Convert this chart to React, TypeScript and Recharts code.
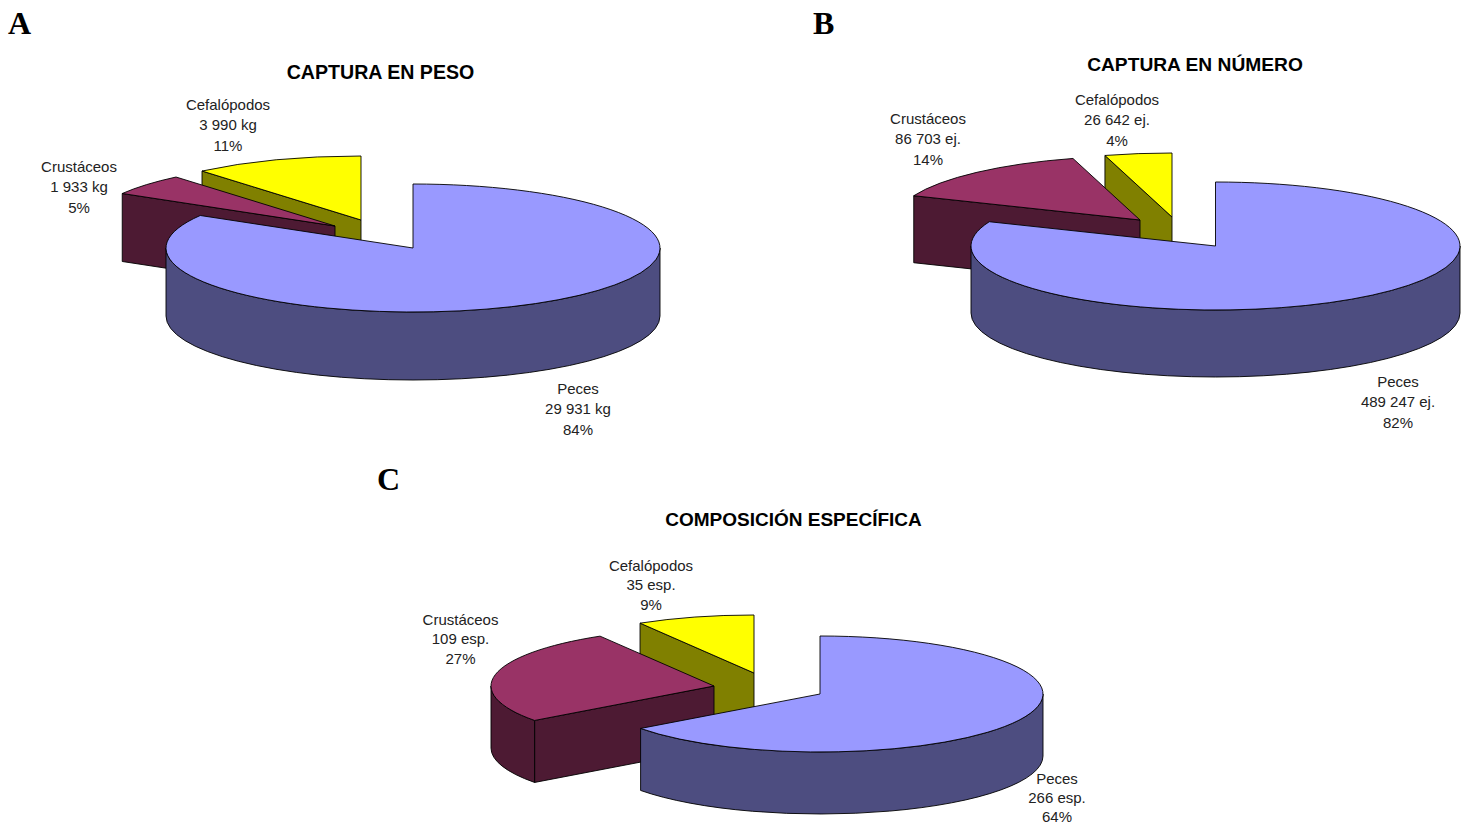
import { Pie, PieChart } from 'recharts';

const categories = ['Cefalópodos', 'Crustáceos', 'Peces'];

const pesoValues = [3990, 1933, 29931];
const pesoValueLabels = ['3 990 kg', '1 933 kg', '29 931 kg'];
const pesoPercents = ['11%', '5%', '84%'];

const numeroValues = [26642, 86703, 489247];
const numeroValueLabels = ['26 642 ej.', '86 703 ej.', '489 247 ej.'];
const numeroPercents = ['4%', '14%', '82%'];

const especieValues = [35, 109, 266];
const especieValueLabels = ['35 esp.', '109 esp.', '266 esp.'];
const especiePercents = ['9%', '27%', '64%'];

const topColors = ['#ffff00', '#993366', '#9999ff'];
const sideColors = ['#808000', '#4d1a33', '#4d4d80'];

const buildRows = (values: number[], valueLabels: string[], percents: string[]) =>
    categories.map((name, i) => ({ name, value: values[i], valueLabel: valueLabels[i], percent: percents[i] }));

const panels = [
    {
        letter: 'A',
        letterAt: [8, 34],
        title: 'CAPTURA EN PESO',
        titleAt: [380.5, 78.5],
        titleSize: 19.6,
        rows: buildRows(pesoValues, pesoValueLabels, pesoPercents),
        cx: 413,
        cy: 248,
        rx: 247,
        ry: 64,
        depth: 68,
        offsets: [[-52, -28], [-78, -22], [0, 0]],
        labelAt: [[228, 110], [79, 172], [578, 394]],
        lineGap: 20.4,
    },
    {
        letter: 'B',
        letterAt: [813, 34],
        title: 'CAPTURA EN NÚMERO',
        titleAt: [1195, 70.5],
        titleSize: 19.2,
        rows: buildRows(numeroValues, numeroValueLabels, numeroPercents),
        cx: 1215.5,
        cy: 246,
        rx: 244.5,
        ry: 64,
        depth: 67,
        offsets: [[-43.5, -29], [-75.5, -26], [0, 0]],
        labelAt: [[1117, 105], [928, 124], [1398, 387]],
        lineGap: 20.4,
    },
    {
        letter: 'C',
        letterAt: [377, 490],
        title: 'COMPOSICIÓN ESPECÍFICA',
        titleAt: [793.5, 525.5],
        titleSize: 19,
        rows: buildRows(especieValues, especieValueLabels, especiePercents),
        cx: 820,
        cy: 694,
        rx: 223,
        ry: 58,
        depth: 62,
        offsets: [[-66, -21], [-106, -8], [0, 0]],
        labelAt: [[651, 571], [460.5, 625], [1057, 783.5]],
        lineGap: 19.3,
    },
];

type Panel = (typeof panels)[number];

const OUTLINE = { stroke: '#000', strokeWidth: 0.9, strokeLinejoin: 'round' as const };

// Pie slice drawn as a tilted cylinder wedge: radial walls, rim, then the lid.
function wedge(panel: Panel) {
    return (props: any) => {
        const index = categories.indexOf(props.name);
        const [dx, dy] = panel.offsets[index];
        const x0 = props.cx + dx;
        const y0 = props.cy + dy;
        const rx = props.outerRadius;
        const { ry, depth } = panel;

        // slices run counter-clockwise in recharts degrees; convert to clockwise from the top
        let from = 90 - props.endAngle;
        let to = 90 - props.startAngle;
        if (from < 0) {
            from += 360;
            to += 360;
        }

        const at = (deg: number, drop = 0) => {
            const rad = (deg * Math.PI) / 180;
            return `${x0 + rx * Math.sin(rad)} ${y0 - ry * Math.cos(rad) + drop}`;
        };
        const arc = (a: number, b: number, drop: number) => {
            const sweep = b > a ? 1 : 0;
            return `A ${rx} ${ry} 0 ${Math.abs(b - a) > 180 ? 1 : 0} ${sweep} ${at(b, drop)}`;
        };
        const radialWall = (deg: number) =>
            `M ${x0} ${y0} L ${at(deg)} L ${at(deg, depth)} L ${x0} ${y0 + depth} Z`;

        const rimFrom = Math.max(from, 90);
        const rimTo = Math.min(to, 270);

        return (
            <g>
                {from > 180 && from < 360 && <path d={radialWall(from)} fill={sideColors[index]} {...OUTLINE} />}
                {to > 0 && to < 180 && <path d={radialWall(to)} fill={sideColors[index]} {...OUTLINE} />}
                {rimTo > rimFrom && (
                    <path
                        d={`M ${at(rimFrom)} ${arc(rimFrom, rimTo, 0)} L ${at(rimTo, depth)} ${arc(rimTo, rimFrom, depth)} Z`}
                        fill={sideColors[index]}
                        {...OUTLINE}
                    />
                )}
                <path d={`M ${x0} ${y0} L ${at(from)} ${arc(from, to, 0)} Z`} fill={topColors[index]} {...OUTLINE} />
            </g>
        );
    };
}

function sliceLabel(panel: Panel) {
    return (props: any) => {
        const index = categories.indexOf(props.name);
        const row = panel.rows[index];
        const [x, y] = panel.labelAt[index];
        return (
            <text
                x={x}
                y={y}
                textAnchor="middle"
                fontFamily="'Liberation Sans', Arial, sans-serif"
                fontSize={15}
                fill="#222"
            >
                <tspan x={x}>{row.name}</tspan>
                <tspan x={x} dy={panel.lineGap}>{row.valueLabel}</tspan>
                <tspan x={x} dy={panel.lineGap}>{row.percent}</tspan>
            </text>
        );
    };
}

export default function App() {
    return (
        <div style={{ position: 'absolute', left: 0, top: 0, width: 1470, height: 823, background: '#fff' }}>
            <PieChart width={1470} height={823} margin={{ top: 0, right: 0, bottom: 0, left: 0 }}>
                {panels.map((panel) => (
                    <Pie
                        key={panel.letter}
                        data={panel.rows}
                        dataKey="value"
                        nameKey="name"
                        cx={panel.cx}
                        cy={panel.cy}
                        innerRadius={0}
                        outerRadius={panel.rx}
                        startAngle={90}
                        endAngle={450}
                        stroke="none"
                        shape={wedge(panel)}
                        label={sliceLabel(panel)}
                        labelLine={false}
                        isAnimationActive={false}
                    />
                ))}
                {panels.map((panel) => (
                    <g key={panel.letter}>
                        <text
                            x={panel.letterAt[0]}
                            y={panel.letterAt[1]}
                            fontFamily="'Liberation Serif', 'Times New Roman', serif"
                            fontWeight="bold"
                            fontSize={32}
                            fill="#000"
                        >
                            {panel.letter}
                        </text>
                        <text
                            x={panel.titleAt[0]}
                            y={panel.titleAt[1]}
                            textAnchor="middle"
                            fontFamily="'Liberation Sans', Arial, sans-serif"
                            fontWeight="bold"
                            fontSize={panel.titleSize}
                            fill="#000"
                        >
                            {panel.title}
                        </text>
                    </g>
                ))}
            </PieChart>
        </div>
    );
}
